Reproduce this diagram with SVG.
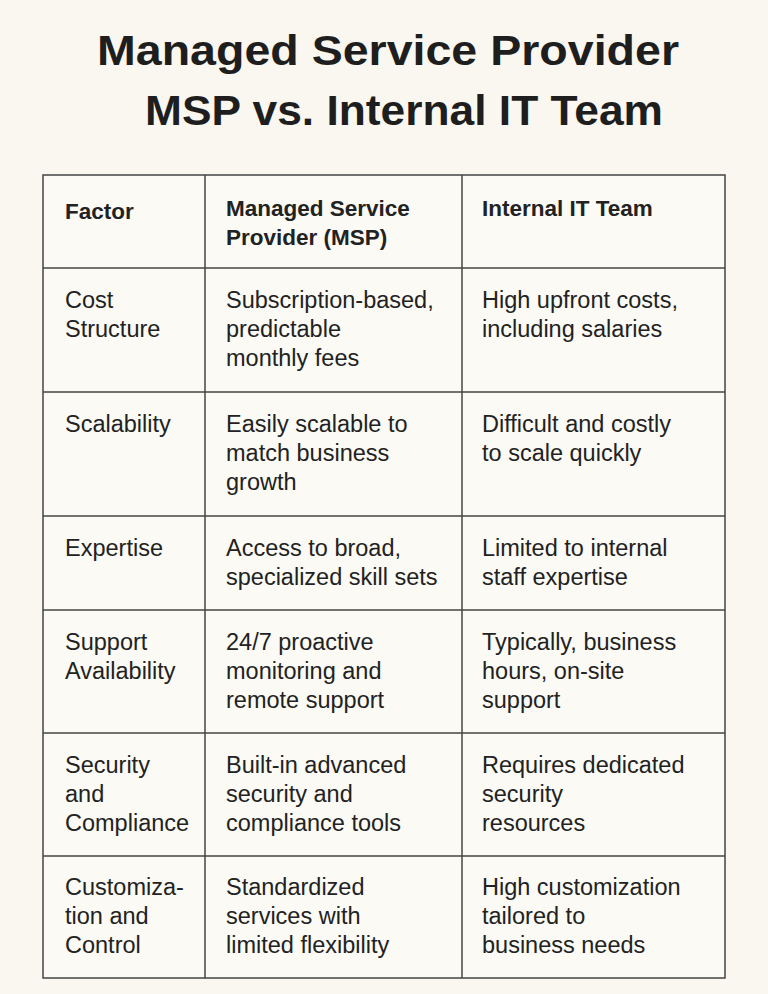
<svg xmlns="http://www.w3.org/2000/svg" width="768" height="994" viewBox="0 0 768 994">
<style>
.t{font-family:"Liberation Sans",Arial,sans-serif;font-weight:bold;font-size:43px;fill:#1e1e1e;text-anchor:middle}
.h{font-family:"Liberation Sans",Arial,sans-serif;font-weight:bold;font-size:22.5px;fill:#222}
.b{font-family:"Liberation Sans",Arial,sans-serif;font-size:23.5px;fill:#222}
.g line{stroke:#444;stroke-width:1.5}
</style>
<rect width="768" height="994" fill="#f9f7f0"/>
<text class="t" x="388" y="65" textLength="582" lengthAdjust="spacingAndGlyphs">Managed Service Provider</text>
<text class="t" x="404" y="125" textLength="518" lengthAdjust="spacingAndGlyphs">MSP vs. Internal IT Team</text>
<g class="g" id="grid">
<rect x="43" y="175" width="682" height="803" fill="#fbfaf5" stroke="#444" stroke-width="1.5"/>
<line x1="205" y1="175" x2="205" y2="978"/><line x1="462" y1="175" x2="462" y2="978"/>
<line x1="43" y1="268" x2="725" y2="268"/><line x1="43" y1="392" x2="725" y2="392"/>
<line x1="43" y1="516" x2="725" y2="516"/><line x1="43" y1="610" x2="725" y2="610"/>
<line x1="43" y1="733" x2="725" y2="733"/><line x1="43" y1="856" x2="725" y2="856"/>
</g>
<g id="header">
<text class="h" x="65" y="219">Factor</text>
<text class="h" x="226" y="216">Managed Service</text><text class="h" x="226" y="245">Provider (MSP)</text>
<text class="h" x="482" y="216">Internal IT Team</text>
</g>
<g id="r1">
<text class="b" x="65" y="308">Cost</text><text class="b" x="65" y="337">Structure</text>
<text class="b" x="226" y="308">Subscription-based,</text><text class="b" x="226" y="337">predictable</text><text class="b" x="226" y="366">monthly fees</text>
<text class="b" x="482" y="308">High upfront costs,</text><text class="b" x="482" y="337">including salaries</text>
</g>
<g id="r2">
<text class="b" x="65" y="432">Scalability</text>
<text class="b" x="226" y="432">Easily scalable to</text><text class="b" x="226" y="461">match business</text><text class="b" x="226" y="490">growth</text>
<text class="b" x="482" y="432">Difficult and costly</text><text class="b" x="482" y="461">to scale quickly</text>
</g>
<g id="r3">
<text class="b" x="65" y="556">Expertise</text>
<text class="b" x="226" y="556">Access to broad,</text><text class="b" x="226" y="585">specialized skill sets</text>
<text class="b" x="482" y="556">Limited to internal</text><text class="b" x="482" y="585">staff expertise</text>
</g>
<g id="r4">
<text class="b" x="65" y="650">Support</text><text class="b" x="65" y="679">Availability</text>
<text class="b" x="226" y="650">24/7 proactive</text><text class="b" x="226" y="679">monitoring and</text><text class="b" x="226" y="708">remote support</text>
<text class="b" x="482" y="650">Typically, business</text><text class="b" x="482" y="679">hours, on-site</text><text class="b" x="482" y="708">support</text>
</g>
<g id="r5">
<text class="b" x="65" y="773">Security</text><text class="b" x="65" y="802">and</text><text class="b" x="65" y="831">Compliance</text>
<text class="b" x="226" y="773">Built-in advanced</text><text class="b" x="226" y="802">security and</text><text class="b" x="226" y="831">compliance tools</text>
<text class="b" x="482" y="773">Requires dedicated</text><text class="b" x="482" y="802">security</text><text class="b" x="482" y="831">resources</text>
</g>
<g id="r6">
<text class="b" x="65" y="895">Customiza-</text><text class="b" x="65" y="924">tion and</text><text class="b" x="65" y="953">Control</text>
<text class="b" x="226" y="895">Standardized</text><text class="b" x="226" y="924">services with</text><text class="b" x="226" y="953">limited flexibility</text>
<text class="b" x="482" y="895">High customization</text><text class="b" x="482" y="924">tailored to</text><text class="b" x="482" y="953">business needs</text>
</g>
</svg>
